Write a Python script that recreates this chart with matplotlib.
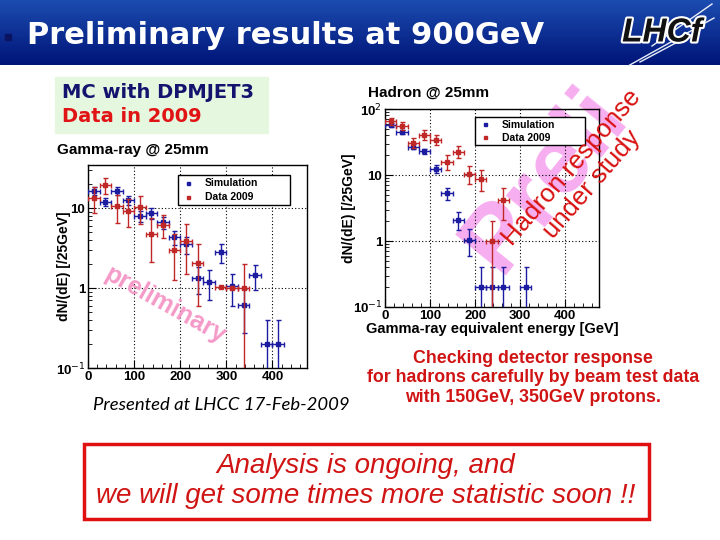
import numpy as np
import matplotlib
matplotlib.use("Agg")
import matplotlib.pyplot as plt
import matplotlib.patheffects as pe
from matplotlib.patches import Rectangle
from matplotlib.ticker import FixedLocator, NullFormatter, LogLocator

# ---- Gamma-ray @ 25mm ----
gamma_sim_x = [12.5, 37.5, 62.5, 87.5, 112.5, 137.5, 162.5, 187.5, 212.5, 237.5,
               262.5, 287.5, 312.5, 337.5, 362.5, 387.5, 412.5]
gamma_sim_y = [16.5, 12.0, 16.5, 12.5, 8.0, 8.6, 6.6, 4.3, 3.5, 1.35,
               1.2, 2.8, 1.05, 0.62, 1.45, 0.2, 0.2]
gamma_sim_err = [1.8, 1.5, 1.8, 1.6, 1.3, 1.3, 1.2, 0.9, 0.85, 0.5,
                 0.5, 0.75, 0.45, 0.35, 0.5, 0.2, 0.2]

gamma_dat_x = [12.5, 37.5, 62.5, 87.5, 112.5, 137.5, 162.5, 187.5, 212.5, 237.5,
               287.5, 312.5, 337.5]
gamma_dat_y = [13.5, 19.5, 10.5, 9.3, 10.3, 4.8, 6.2, 3.0, 3.9, 2.05,
               1.03, 1.0, 1.0]
gamma_dat_err = [4.8, 4.5, 4.0, 3.5, 4.0, 2.7, 2.0, 1.75, 2.4, 1.45,
                 0.0, 0.0, 1.0]

# ---- Hadron @ 25mm ----
hadron_sim_x = [12.5, 37.5, 62.5, 87.5, 112.5, 137.5, 162.5, 187.5,
                212.5, 237.5, 262.5, 312.5]
hadron_sim_y = [57, 45, 27, 23, 12.5, 5.3, 2.1, 1.05, 0.2, 0.2, 0.2, 0.2]
hadron_sim_err = [3.5, 3.0, 2.4, 2.2, 1.6, 1.1, 0.65, 0.45, 0.2, 0.2, 0.2, 0.2]

hadron_dat_x = [12.5, 37.5, 62.5, 87.5, 112.5, 137.5, 162.5, 187.5,
                212.5, 237.5, 262.5]
hadron_dat_y = [65, 56, 31, 41, 34, 16, 22.5, 10.5, 8.7, 1.0, 4.2]
hadron_dat_err = [8, 7.5, 5.5, 6.5, 6, 4, 4.7, 3.3, 3.0, 1.0, 2.1]

bin_half = 12.5
x_ticks = [0, 100, 200, 300, 400]
x_tick_labels = ["0", "100", "200", "300", "400"]

BLUE = "#1c1ca0"
RED = "#c02828"
W, H = 720, 540


def fx(x):
    return x / W


def fy(y):
    return 1 - y / H


fig = plt.figure(figsize=(7.2, 5.4), dpi=100)
fig.patch.set_facecolor("white")

# header band
hdr = fig.add_axes([0, fy(65), 1, 65 / H])
grad = np.linspace(0, 1, 100).reshape(-1, 1)
cmap = matplotlib.colors.LinearSegmentedColormap.from_list("hdr", ["#1c4cb0", "#001478"])
hdr.imshow(grad, aspect="auto", cmap=cmap, extent=[0, 1, 0, 1])
hdr.set_axis_off()

fig.text(fx(27), fy(35), "Preliminary results at 900GeV", color="white",
         fontsize=22, fontweight="bold", family="DejaVu Sans", va="center")
fig.patches.append(Rectangle((fx(5), fy(40)), 6 / W, 6 / H, transform=fig.transFigure,
                             color="#0a1460", zorder=5))
# LHCf logo
for (x0, y0, x1, y1) in [(712, 4, 652, 46), (714, 18, 628, 66), (700, 30, 640, 62)]:
    fig.lines.append(plt.Line2D([fx(x0), fx(x1)], [fy(y0), fy(y1)], transform=fig.transFigure,
                                color="#e8eef8", lw=1.0))
fig.text(fx(662), fy(33), "LHCf", fontsize=24, fontweight="bold", style="italic",
         family="Liberation Sans", color="#111111", ha="center", va="center",
         path_effects=[pe.withStroke(linewidth=3, foreground="white")])

# green label box
fig.patches.append(Rectangle((fx(55), fy(133)), 213 / W, 56 / H, transform=fig.transFigure,
                             color="#e6f7df", zorder=0))
fig.text(fx(62), fy(92), "MC with DPMJET3", color="#14146e", fontsize=14,
         fontweight="bold", family="DejaVu Sans", va="center")
fig.text(fx(62), fy(116), "Data in 2009", color="#e01414", fontsize=14,
         fontweight="bold", family="DejaVu Sans", va="center")


def make_panel(rect, ylim, title, title_xy, sx, sy, se, dx, dy, de, legend_rect,
               ylabel_x, xlabel=None):
    ax = fig.add_axes(rect)
    ax.set_yscale("log")
    ax.set_xlim(0, 475)
    ax.set_ylim(*ylim)
    ax.errorbar(sx, sy, xerr=bin_half, yerr=se, fmt="s", ms=2.5, color=BLUE,
                ecolor=BLUE, elinewidth=1, capsize=1.8, capthick=1, zorder=4)
    ax.errorbar(dx, dy, xerr=bin_half, yerr=de, fmt="s", ms=2.5, color=RED,
                ecolor=RED, elinewidth=1, capsize=1.8, capthick=1, zorder=5)
    ax.xaxis.set_major_locator(FixedLocator(x_ticks))
    ax.set_xticklabels(x_tick_labels)
    ax.xaxis.set_minor_locator(FixedLocator(np.arange(0, 475, 20)))
    yt = [v for v in [0.1, 1, 10, 100] if ylim[0] <= v <= ylim[1]]
    ylab = {0.1: "10$^{-1}$", 1: "1", 10: "10", 100: "10$^{2}$"}
    ax.yaxis.set_major_locator(FixedLocator(yt))
    ax.set_yticklabels([ylab[v] for v in yt])
    ax.yaxis.set_minor_locator(LogLocator(base=10, subs=np.arange(2, 10)))
    ax.yaxis.set_minor_formatter(NullFormatter())
    ax.tick_params(which="both", direction="in", top=False, right=False)
    ax.tick_params(which="major", length=6, labelsize=9.5, pad=2)
    ax.tick_params(which="minor", length=3)
    for lab in ax.get_xticklabels() + ax.get_yticklabels():
        lab.set_fontweight("bold")
        lab.set_family("Liberation Sans")
    ax.grid(True, which="major", color="black", linestyle=(0, (1, 2)), lw=0.8)
    for s in ax.spines.values():
        s.set_linewidth(1)
    ax.set_ylabel("dN/(dE) [/25GeV]", fontsize=10, fontweight="bold",
                  family="Liberation Sans")
    ax.yaxis.set_label_coords((ylabel_x - rect[0] * W) / (rect[2] * W), 0.5)
    if xlabel:
        ax.set_xlabel(xlabel, fontsize=10.5, fontweight="bold", family="Liberation Sans",
                      labelpad=0)
    fig.text(fx(title_xy[0]), fy(title_xy[1]), title, fontsize=11, fontweight="bold",
             family="Liberation Sans", va="center")
    # legend box
    lx0, ly0, lx1, ly1 = legend_rect
    fig.patches.append(Rectangle((fx(lx0), fy(ly1)), (lx1 - lx0) / W, (ly1 - ly0) / H,
                                 transform=fig.transFigure, facecolor="white",
                                 edgecolor="black", lw=1, zorder=6))
    hh = (ly1 - ly0)
    for i, (lab, c) in enumerate([("Simulation", BLUE), ("Data 2009", RED)]):
        yy = ly0 + hh * (0.28 + 0.46 * i)
        fig.patches.append(Rectangle((fx(lx0 + 9), fy(yy + 1.5)), 3 / W, 3 / H,
                                     transform=fig.transFigure, color=c, zorder=7))
        fig.text(fx(lx0 + 27), fy(yy), lab, fontsize=7.5, fontweight="bold",
                 family="Liberation Sans", va="center", zorder=7)
    return ax


ax1 = make_panel([fx(88), fy(368), (307 - 88) / W, (368 - 165) / H], (0.1, 34.5),
                 "Gamma-ray @ 25mm", (57, 150),
                 gamma_sim_x, gamma_sim_y, gamma_sim_err,
                 gamma_dat_x, gamma_dat_y, gamma_dat_err, (178, 175, 290, 205), 71)
ax2 = make_panel([fx(385), fy(307), (599 - 385) / W, (307 - 109) / H], (0.1, 100),
                 "Hadron @ 25mm", (368, 93),
                 hadron_sim_x, hadron_sim_y, hadron_sim_err,
                 hadron_dat_x, hadron_dat_y, hadron_dat_err, (475, 117, 585, 145), 356,
                 xlabel="Gamma-ray equivalent energy [GeV]")

# watermarks
ax1.text(0.35, 0.31, "preliminary", transform=ax1.transAxes, rotation=-29,
         fontsize=18, fontweight="bold", family="Liberation Sans", color="#f59ac8",
         ha="center", va="center", zorder=3)
fig.text(fx(545), fy(180), "Preli", rotation=51, fontsize=68, fontweight="bold",
         family="Liberation Sans", color="#f7aef0", ha="center", va="center", zorder=1)
ax2.set_zorder(2)
ax2.patch.set_alpha(0)
fig.text(fx(582), fy(176), "Hadron response\nunder study", rotation=49, fontsize=18.5,
         family="Liberation Sans", color="#d81010", ha="center", va="center",
         multialignment="center", zorder=10, linespacing=1.15)

# texts
fig.text(fx(93), fy(405), "Presented at LHCC 17-Feb-2009", fontsize=13.3, style="italic",
         family="Lato", va="center")
fig.text(fx(533), fy(378), "Checking detector response\nfor hadrons carefully by beam test data\nwith 150GeV, 350GeV protons.",
         fontsize=12.8, fontweight="bold", family="Liberation Sans", color="#d01414",
         ha="center", va="center", linespacing=1.2)

fig.patches.append(Rectangle((fx(84), fy(519)), (649 - 84) / W, (519 - 444) / H,
                             transform=fig.transFigure, facecolor="white",
                             edgecolor="#e01010", lw=2.5, zorder=6))
fig.text(fx(366), fy(481), "Analysis is ongoing, and\nwe will get some times more statistic soon !!",
         fontsize=20, style="italic", family="Liberation Sans", color="#d01414",
         ha="center", va="center", zorder=7, linespacing=1.17)

fig.savefig("out.png", dpi=100)
